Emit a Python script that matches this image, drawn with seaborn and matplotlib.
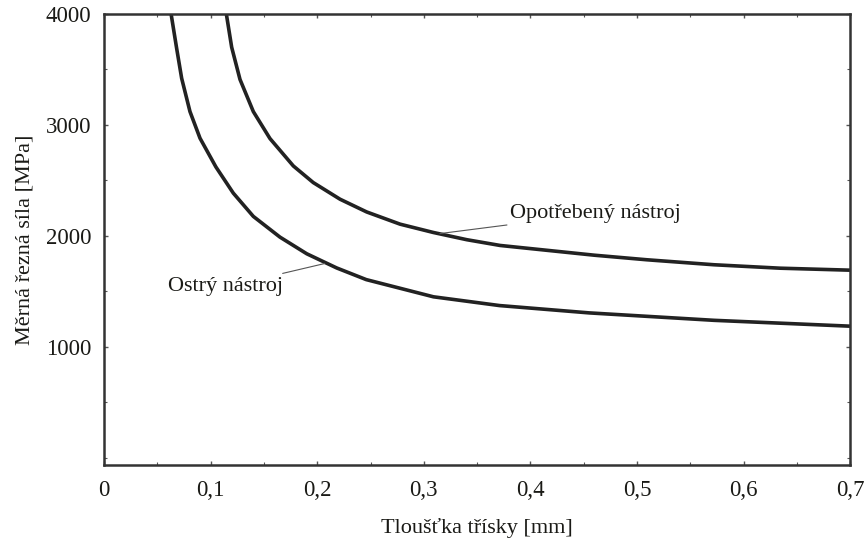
import matplotlib
matplotlib.use('Agg')
import matplotlib.pyplot as plt
import seaborn as sns
import pandas as pd
from matplotlib.ticker import FuncFormatter, MultipleLocator

# hodnoty
tloustka_ostry = [0.0630, 0.0682, 0.0729, 0.0807, 0.0901, 0.105, 0.1213, 0.1401,
                  0.1651, 0.1902, 0.2183, 0.246, 0.309, 0.371, 0.455, 0.572, 0.700]
sila_ostry = [4000, 3690, 3420, 3120, 2880, 2621, 2385, 2175,
              1988, 1838, 1710, 1605, 1450, 1371, 1305, 1238, 1185]

tloustka_opotr = [0.1148, 0.1198, 0.1276, 0.1401, 0.1557, 0.1776, 0.1963, 0.2214,
                  0.2464, 0.2777, 0.3089, 0.3402, 0.3715, 0.460, 0.509, 0.572,
                  0.634, 0.700]
sila_opotr = [4000, 3700, 3410, 3120, 2877, 2630, 2480, 2330,
              2215, 2105, 2030, 1965, 1913, 1825, 1784, 1739,
              1708, 1690]

df = pd.concat([
    pd.DataFrame({'h': tloustka_ostry, 'k': sila_ostry, 'nastroj': 'Ostrý nástroj'}),
    pd.DataFrame({'h': tloustka_opotr, 'k': sila_opotr, 'nastroj': 'Opotřebený nástroj'}),
])

sns.set_style('ticks')
plt.rcParams['font.family'] = ['Liberation Serif', 'DejaVu Serif']
text_color = '#1a1a16'

fig = plt.figure(figsize=(8.66, 5.38), dpi=100)
ax = fig.add_axes([0.120, 0.136, 0.862, 0.838])

sns.lineplot(data=df, x='h', y='k', units='nastroj', estimator=None, sort=False,
             color='#222222', linewidth=2.6, ax=ax, legend=False)

ax.set_xlim(0, 0.7)
ax.set_ylim(-65, 4000)
ax.set_yticks([1000, 2000, 3000, 4000])
ax.yaxis.set_minor_locator(MultipleLocator(500))
ax.xaxis.set_major_locator(MultipleLocator(0.1))
ax.xaxis.set_minor_locator(MultipleLocator(0.05))
ax.xaxis.set_major_formatter(FuncFormatter(
    lambda v, p: '0' if abs(v) < 1e-9 else f'{v:.1f}'.replace('.', ',')))

ax.tick_params(which='both', direction='in', top=True, right=True,
               labelsize=16.5, colors='#555555', labelcolor=text_color)
ax.tick_params(which='major', length=3, width=1)
ax.tick_params(which='minor', length=2, width=0.8)
ax.tick_params(axis='x', pad=11)
ax.tick_params(axis='y', pad=9)

for s in ax.spines.values():
    s.set_linewidth(1.8)
    s.set_color('#333333')

ax.set_xlabel('Tloušťka třísky [mm]', fontsize=16, color=text_color, labelpad=12)
ax.set_ylabel('Měrná řezná síla [MPa]', fontsize=16, color=text_color, labelpad=8)

ax.annotate('Opotřebený nástroj', xy=(0.315, 2020), xytext=(0.381, 2200),
            fontsize=16, color=text_color, va='center', ha='left',
            arrowprops=dict(arrowstyle='-', color='#555555', lw=0.8,
                            shrinkA=0, shrinkB=0))
ax.annotate('Ostrý nástroj', xy=(0.207, 1750), xytext=(0.168, 1540),
            fontsize=16, color=text_color, va='center', ha='right',
            arrowprops=dict(arrowstyle='-', color='#555555', lw=0.8,
                            shrinkA=2, shrinkB=0))

plt.savefig('out.png', dpi=100)
